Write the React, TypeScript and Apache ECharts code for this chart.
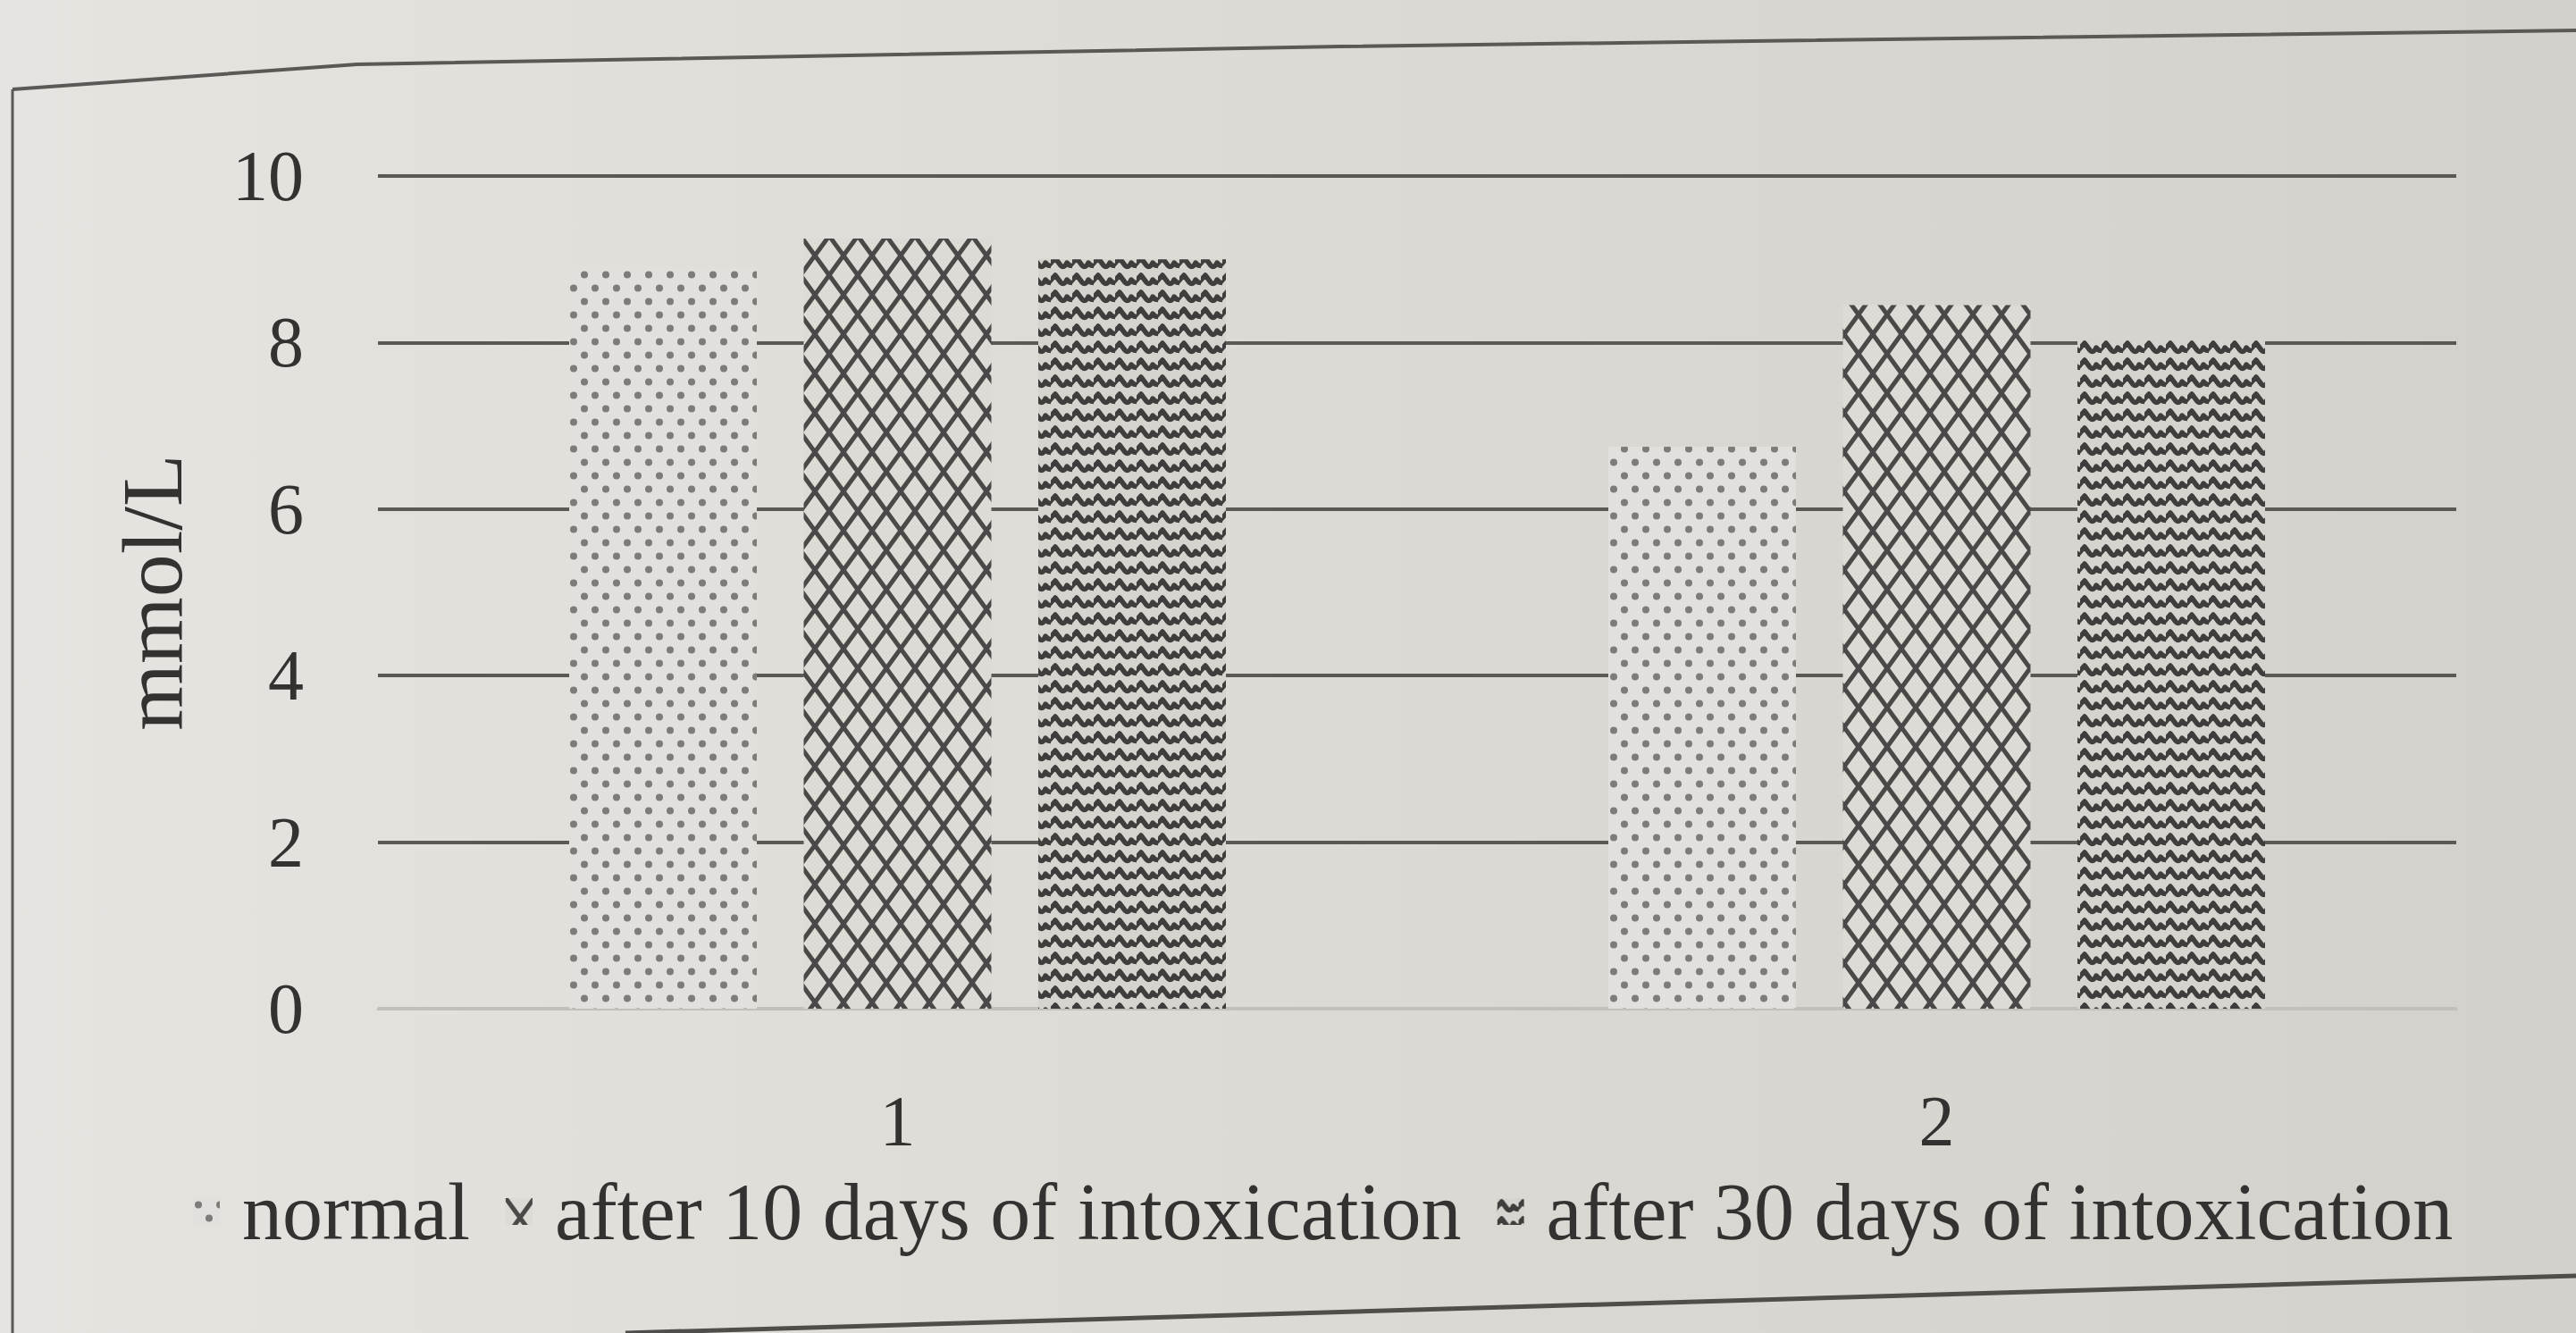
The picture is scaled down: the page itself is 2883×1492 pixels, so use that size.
import React, { useEffect, useRef } from "react";
import * as echarts from "echarts";

const categories = ["1", "2"];
const seriesNames = [
  "normal",
  "after 10 days of intoxication",
  "after 30 days of intoxication",
];
const normalValues = [8.9, 6.75];
const after10Values = [9.25, 8.45];
const after30Values = [9.0, 8.05];
const yMin = 0;
const yMax = 10;
const yStep = 2;
const yAxisName = "mmol/L";

function makeTile(w: number, h: number, draw: (ctx: CanvasRenderingContext2D) => void) {
  const c = document.createElement("canvas");
  c.width = w;
  c.height = h;
  const ctx = c.getContext("2d") as CanvasRenderingContext2D;
  draw(ctx);
  return c;
}

function dotsTile() {
  return makeTile(24, 30, (ctx) => {
    ctx.fillStyle = "#e2e0dc";
    ctx.fillRect(0, 0, 24, 30);
    ctx.fillStyle = "#7e7c79";
    const pts = [
      [6, 7.5],
      [18, 22.5],
    ];
    pts.forEach(([x, y]) => {
      ctx.beginPath();
      ctx.arc(x, y, 4, 0, Math.PI * 2);
      ctx.fill();
    });
  });
}

function diamondTile() {
  const w = 32;
  const h = 44;
  return makeTile(w, h, (ctx) => {
    ctx.fillStyle = "#dddbd6";
    ctx.fillRect(0, 0, w, h);
    ctx.strokeStyle = "#4a4947";
    ctx.lineWidth = 5;
    ctx.beginPath();
    ctx.moveTo(-w, -h);
    ctx.lineTo(2 * w, 2 * h);
    ctx.moveTo(2 * w, -h);
    ctx.lineTo(-w, 2 * h);
    ctx.stroke();
  });
}

function waveTile() {
  const w = 24;
  const h = 19;
  return makeTile(w, h, (ctx) => {
    ctx.fillStyle = "#d6d4cf";
    ctx.fillRect(0, 0, w, h);
    ctx.strokeStyle = "#3f3e3c";
    ctx.lineWidth = 5.5;
    ctx.lineJoin = "round";
    ctx.lineCap = "round";
    ctx.beginPath();
    ctx.moveTo(-3, 13);
    ctx.lineTo(5, 4);
    ctx.lineTo(11, 12);
    ctx.quadraticCurveTo(15, 16, 18, 9);
    ctx.lineTo(21, 12);
    ctx.lineTo(27, 13);
    ctx.stroke();
  });
}

export default function App() {
  const ref = useRef<HTMLDivElement>(null);

  useEffect(() => {
    document.body.style.margin = "0";
    const chart = echarts.init(ref.current as HTMLDivElement, undefined, {
      renderer: "svg",
    });

    const patterns = [dotsTile(), diamondTile(), waveTile()];
    const values = [normalValues, after10Values, after30Values];

    const gridColor = "#5a5956";
    const option: any = {
      animation: false,
      backgroundColor: "transparent",
      textStyle: { fontFamily: "Liberation Serif", color: "#333230" },
      grid: { left: 423, right: 134, top: 197, bottom: 363 },
      legend: {
        data: seriesNames,
        left: 211,
        top: 1306,
        itemWidth: 30,
        itemHeight: 30,
        itemGap: 40,
        icon: "rect",
        textStyle: {
          fontSize: 90,
          color: "#333230",
          fontFamily: "Liberation Serif",
          padding: [0, 0, 0, 20],
        },
      },
      xAxis: {
        type: "category",
        data: categories,
        axisLine: { show: true, lineStyle: { color: "#c2c0bb", width: 3 } },
        axisTick: { show: false },
        axisLabel: {
          fontSize: 80,
          color: "#333230",
          margin: 86,
          fontFamily: "Liberation Serif",
        },
      },
      yAxis: {
        type: "value",
        min: yMin,
        max: yMax,
        interval: yStep,
        name: yAxisName,
        nameLocation: "middle",
        nameGap: 205,
        nameTextStyle: {
          fontSize: 96,
          color: "#333230",
          fontFamily: "Liberation Serif",
        },
        axisLine: { show: false },
        axisTick: { show: false },
        axisLabel: {
          fontSize: 80,
          color: "#333230",
          margin: 83,
          fontFamily: "Liberation Serif",
        },
        splitLine: {
          show: true,
          lineStyle: {
            color: ["#c2c0bb", gridColor, gridColor, gridColor, gridColor, gridColor],
            width: 4,
          },
        },
      },
      graphic: [
        {
          type: "polyline",
          z: 100,
          shape: {
            points: [
              [14, 100],
              [400, 72],
              [1500, 52],
              [2883, 34],
            ],
          },
          style: { stroke: "#5a5956", lineWidth: 4, fill: "none" },
        },
        {
          type: "line",
          z: 100,
          shape: { x1: 14, y1: 100, x2: 14, y2: 1492 },
          style: { stroke: "#5a5956", lineWidth: 3 },
        },
        {
          type: "line",
          z: 100,
          shape: { x1: 700, y1: 1492, x2: 2883, y2: 1428 },
          style: { stroke: "#4f4e4b", lineWidth: 5 },
        },
      ],
      series: seriesNames.map((name, i) => ({
        name,
        type: "bar",
        data: values[i],
        barWidth: 210,
        barGap: "25%",
        itemStyle: {
          color: { image: patterns[i], repeat: "repeat" },
        },
      })),
    };

    chart.setOption(option);
    return () => chart.dispose();
  }, []);

  return (
    <div
      ref={ref}
      style={{
        width: 2883,
        height: 1492,
        background:
          "linear-gradient(90deg, #e6e4e0 0%, #dedbd7 45%, #d4d1cc 100%)",
      }}
    />
  );
}
